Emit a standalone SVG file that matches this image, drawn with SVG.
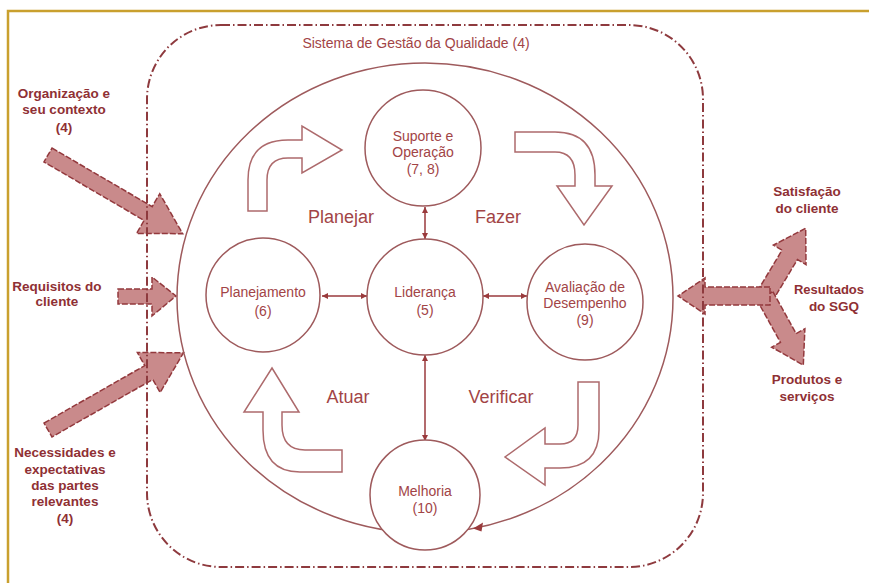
<svg xmlns="http://www.w3.org/2000/svg" width="869" height="583" viewBox="0 0 869 583">
<defs>
<style>
.frame{fill:none;stroke:#c9a02e;stroke-width:2.5}
.sys{fill:none;stroke:#8e3a3e;stroke-width:2;stroke-dasharray:9 3 1.5 3}
.big{fill:none;stroke:#9e5a5c;stroke-width:1.5}
.node{fill:#fff;stroke:#9e5a5c;stroke-width:1.5}
.bend{fill:#fff;stroke:#ad6a6c;stroke-width:1.5;stroke-linejoin:miter}
.fat{fill:#c98a8b;stroke:#93393d;stroke-width:1.5;stroke-dasharray:6 2;stroke-linejoin:miter}
.link{fill:none;stroke:#9a3a3c;stroke-width:1.5;marker-start:url(#ah);marker-end:url(#ah)}
.t{font-family:"Liberation Sans",Arial,sans-serif;font-size:14px;fill:#a24446;text-anchor:middle}
.pd{font-family:"Liberation Sans",Arial,sans-serif;font-size:18px;fill:#a24446;text-anchor:middle}
.lb{font-family:"Liberation Sans",Arial,sans-serif;font-size:13.5px;font-weight:bold;fill:#8f3034;text-anchor:middle}
</style>
<marker id="ah" viewBox="0 0 10 10" refX="10" refY="5" markerWidth="6" markerHeight="6" orient="auto-start-reverse" markerUnits="userSpaceOnUse">
<path d="M0,0 L10,5 L0,10 Z" fill="#9a3a3c"/>
</marker>
</defs>
<rect width="869" height="583" fill="#fff"/>
<path class="frame" d="M8,583 L8,11 L869,11"/>

<g id="input-arrows">
<polygon class="fat" transform="translate(48,155) rotate(30.3)" points="0,-8 116,-8 116,-23 156,0 116,23 116,8 0,8"/>
<polygon class="fat" points="118,289 152,289 152,277 176,296 152,316 152,304 118,304"/>
<polygon class="fat" transform="translate(48,430) rotate(-29.7)" points="0,-8 116,-8 116,-23 156,0 116,23 116,8 0,8"/>
</g>
<g id="output-arrows">
<polygon class="fat" transform="translate(765,296) rotate(-59)" points="0,-9 48,-9 48,-19 79,0 48,19 48,9 0,9"/>
<polygon class="fat" transform="translate(765,296) rotate(61)" points="0,-9 48,-9 48,-19 79,0 48,19 48,9 0,9"/>
<polygon class="fat" points="770,287 705,287 705,278 678,296 705,314 705,305 770,305"/>
</g>

<g id="sgq">
<rect class="sys" x="147" y="25" width="556" height="542" rx="74" ry="74"/>
<text class="t" x="416" y="48">Sistema de Gestão da Qualidade (4)</text>
</g>

<g id="cycle">
<ellipse class="big" cx="425" cy="298" rx="248" ry="235"/>
<path d="M473,528.5 L483,522.4 L481.5,531.6 Z" fill="#9a3a3c"/>
</g>

<g id="pdca-arrows">
<path class="bend" d="M248,211 L248,180 Q248,140 288,140 L302,140 L302,126 L342,150 L302,173 L302,158 L288,158 Q267,158 267,180 L267,211 Z"/>
<path class="bend" d="M515,132 L555,132 Q595,132 595,175 L595,186 L612,186 L584,225 L557,186 L575,186 L575,175 Q575,152 555,152 L515,152 Z"/>
<path class="bend" d="M578,382 L599,382 L599,430 Q599,468 560,468 L545,468 L545,485 L505,457 L545,428 L545,444 L560,444 Q578,444 578,425 Z"/>
<path class="bend" d="M272,368 L299,412 L282,412 L282,425 Q282,450 305,450 L342,450 L342,472 L300,472 Q263,472 263,430 L263,412 L244,412 Z"/>
<text class="pd" x="341" y="223">Planejar</text>
<text class="pd" x="498" y="223">Fazer</text>
<text class="pd" x="348" y="403">Atuar</text>
<text class="pd" x="501" y="403">Verificar</text>
</g>

<g id="connectors">
<line class="link" x1="425" y1="207" x2="425" y2="239"/>
<line class="link" x1="322" y1="296" x2="367" y2="296"/>
<line class="link" x1="483" y1="296" x2="527" y2="296"/>
<line class="link" x1="425" y1="355" x2="425" y2="441"/>
</g>

<g id="node-suporte">
<circle class="node" cx="423" cy="148" r="58"/>
<text class="t" x="423" y="141">Suporte e</text>
<text class="t" x="423" y="157">Operação</text>
<text class="t" x="423" y="174">(7, 8)</text>
</g>
<g id="node-planejamento">
<circle class="node" cx="263" cy="295" r="57"/>
<text class="t" x="263" y="297">Planejamento</text>
<text class="t" x="263" y="316">(6)</text>
</g>
<g id="node-lideranca">
<circle class="node" cx="425" cy="297" r="58"/>
<text class="t" x="425" y="297">Liderança</text>
<text class="t" x="425" y="315">(5)</text>
</g>
<g id="node-avaliacao">
<circle class="node" cx="585" cy="302" r="58"/>
<text class="t" x="585" y="292">Avaliação de</text>
<text class="t" x="585" y="308">Desempenho</text>
<text class="t" x="585" y="325">(9)</text>
</g>
<g id="node-melhoria">
<circle class="node" cx="425" cy="495" r="55"/>
<text class="t" x="425" y="496">Melhoria</text>
<text class="t" x="425" y="513">(10)</text>
</g>

<g id="labels">
<text class="lb" x="64" y="98">Organização e</text>
<text class="lb" x="64" y="114">seu contexto</text>
<text class="lb" x="64" y="132">(4)</text>
<text class="lb" x="57" y="291">Requisitos do</text>
<text class="lb" x="57" y="306">cliente</text>
<text class="lb" x="65" y="457">Necessidades e</text>
<text class="lb" x="65" y="474">expectativas</text>
<text class="lb" x="65" y="490">das partes</text>
<text class="lb" x="65" y="506">relevantes</text>
<text class="lb" x="65" y="523">(4)</text>
<text class="lb" x="807" y="196">Satisfação</text>
<text class="lb" x="807" y="213">do cliente</text>
<text class="lb" x="829" y="294" style="font-size:13px">Resultados</text>
<text class="lb" x="834" y="311">do SGQ</text>
<text class="lb" x="807" y="384">Produtos e</text>
<text class="lb" x="807" y="401">serviços</text>
</g>
</svg>
